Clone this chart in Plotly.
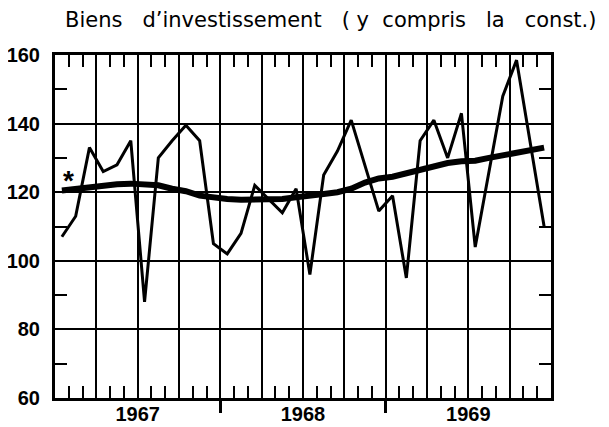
import plotly.graph_objects as go

# Monthly index (mid-month positions), Jan 1967 .. Dec 1969
months = [i + 0.5 for i in range(36)]
years = ["1967", "1968", "1969"]

# Raw monthly series (thin line)
raw = [107, 113, 133, 126, 128, 135, 88, 130, 135, 139.5, 135, 105,
       102, 108, 122, 118, 114, 121, 96, 125, 132, 141, 128, 114.5,
       119, 95, 135, 141, 130, 143, 104, 126, 148, 158.5, 134, 110]

# Trend (thick line)
trend = [120.5, 121, 121.5, 122, 122.3, 122.5, 122.4, 122, 121, 120.3, 119, 118.3,
         118, 117.8, 117.8, 117.8, 118, 118.5, 119.2, 119.5, 120, 121, 122.8, 124,
         124.5, 125.5, 126.5, 127.5, 128.5, 129, 129.2, 130, 130.8, 131.5, 132.5, 133]

title_text = "Biens   d\u2019investissement   ( y  compris   la   const.)"

quarter_ticks = list(range(0, 37, 3))
quarter_text = []
for q in quarter_ticks:
    if q in (6, 18, 30):
        quarter_text.append(years[(q - 6) // 12])
    else:
        quarter_text.append("")

fig = go.Figure()
fig.add_trace(go.Scatter(x=months, y=trend, mode="lines",
                         line=dict(color="black", width=6), hoverinfo="skip"))
fig.add_trace(go.Scatter(x=months, y=raw, mode="lines",
                         line=dict(color="black", width=3), hoverinfo="skip"))
# invisible trace to activate xaxis2 (year boundary ticks)
fig.add_trace(go.Scatter(x=[0, 36], y=[60, 60], xaxis="x2", mode="lines",
                         line=dict(width=0), showlegend=False, hoverinfo="skip"))

tickfont = dict(family="Liberation Sans", size=20, color="black", weight="bold")
clear = "rgba(0,0,0,0)"

W, H = 601, 419          # page body has an 8px margin
L, R, T, B = 47, 58, 47, 29
pw, ph = W - L - R, H - T - B

fig.update_layout(
    width=W, height=H,
    margin=dict(l=L, r=R, t=T, b=B, autoexpand=False),
    paper_bgcolor="white", plot_bgcolor="white",
    showlegend=False,
    xaxis=dict(range=[0, 36], tickmode="array", tickvals=quarter_ticks, ticktext=quarter_text,
               ticks="inside", ticklen=1, tickcolor=clear,
               showgrid=True, gridcolor="black", gridwidth=2, automargin=False,
               showline=True, linecolor="black", linewidth=3, mirror="allticks",
               tickfont=tickfont, ticklabelstandoff=-4, zeroline=False,
               minor=dict(dtick=1, tick0=0, ticks="inside", ticklen=12, tickwidth=2,
                          tickcolor="black", showgrid=False)),
    xaxis2=dict(range=[0, 36], overlaying="x", side="bottom", tickmode="array",
                tickvals=[12, 24], ticktext=["", ""], ticks="outside", ticklen=14,
                tickwidth=3, tickcolor="black", showgrid=False, showline=False,
                zeroline=False, automargin=False),
    yaxis=dict(range=[60, 160], tickmode="linear", tick0=60, dtick=20,
               ticks="inside", ticklen=1, tickcolor=clear,
               showgrid=True, gridcolor="black", gridwidth=2, automargin=False,
               showline=True, linecolor="black", linewidth=3, mirror="allticks",
               tickfont=tickfont, ticklabelstandoff=8, zeroline=False,
               minor=dict(dtick=10, tick0=60, ticks="inside", ticklen=12, tickwidth=2,
                          tickcolor="black", showgrid=False)),
    annotations=[
        dict(text=title_text, xref="paper", yref="paper", showarrow=False,
             x=(322 - L) / pw, y=1 + (T - 12) / ph,
             xanchor="center", yanchor="middle",
             font=dict(family="DejaVu Sans", size=21, color="black")),
        dict(text="*", x=0.95, y=123.5, xref="x", yref="y", showarrow=False,
             font=dict(family="Liberation Sans", size=28, color="black", weight="bold")),
    ],
)

fig.write_html("out.html")
